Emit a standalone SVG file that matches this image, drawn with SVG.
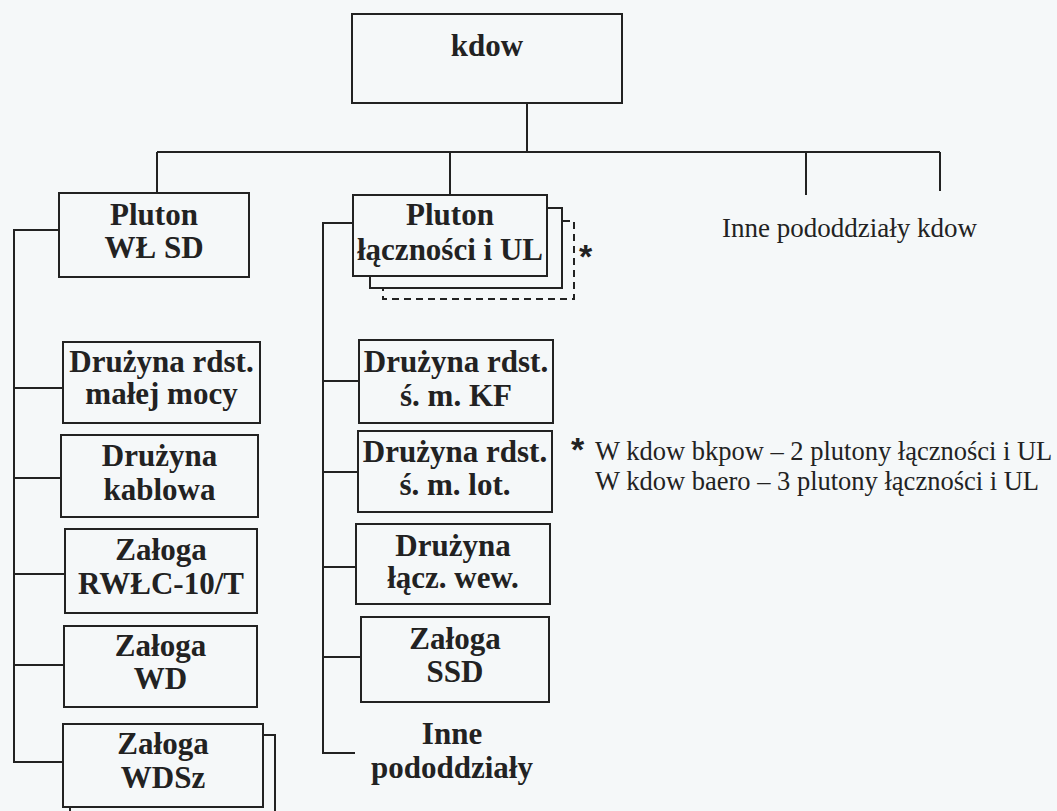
<svg xmlns="http://www.w3.org/2000/svg" width="1057" height="811" viewBox="0 0 1057 811">
<style>
.bx{fill:none;stroke:#222;stroke-width:2}
.ln{fill:none;stroke:#222;stroke-width:2}
.ds{fill:none;stroke:#222;stroke-width:2;stroke-dasharray:7,5}
.b{font-family:"Liberation Serif","Times New Roman",serif;font-weight:bold;font-size:31px;fill:#222;text-anchor:middle}
.r{font-family:"Liberation Serif","Times New Roman",serif;font-size:27px;fill:#222}
.ast{font-family:"Liberation Sans",Arial,sans-serif;font-weight:bold;fill:#222}
</style>
<rect width="1057" height="811" fill="#f5f8f9"/>
<g id="connectors">
<path class="ln" d="M527,103 V153 M157,152 H940 M157,152 V193 M450,152 V195 M806,152 V195 M940,152 V191"/>
<path class="ln" d="M59,230 H14 V762 H63 M14,388 H63 M14,478 H61 M14,574 H65 M14,665 H64"/>
<path class="ln" d="M353,223 H323 V753 H355 M323,381 H359 M323,472 H358 M323,567 H356 M323,657 H361"/>
</g>
<g id="kdow">
<rect class="bx" x="352" y="14" width="270" height="89"/>
<text class="b" x="487" y="56">kdow</text>
</g>
<g id="pluton-wl-sd">
<rect class="bx" x="59" y="193" width="190" height="84"/>
<text class="b" x="154" y="225">Pluton</text>
<text class="b" x="154" y="258">WŁ SD</text>
</g>
<g id="druzyna-malej-mocy">
<rect class="bx" x="63" y="342" width="197" height="81"/>
<text class="b" x="161.5" y="372">Drużyna rdst.</text>
<text class="b" x="161.5" y="404">małej mocy</text>
</g>
<g id="druzyna-kablowa">
<rect class="bx" x="61" y="435" width="197" height="82"/>
<text class="b" x="159.5" y="466">Drużyna</text>
<text class="b" x="159.5" y="500">kablowa</text>
</g>
<g id="zaloga-rwlc">
<rect class="bx" x="65" y="529" width="192" height="84"/>
<text class="b" x="161" y="560">Załoga</text>
<text class="b" x="161" y="594">RWŁC-10/T</text>
</g>
<g id="zaloga-wd">
<rect class="bx" x="64" y="626" width="193" height="81"/>
<text class="b" x="160.5" y="656">Załoga</text>
<text class="b" x="160.5" y="689">WD</text>
</g>
<g id="zaloga-wdsz">
<path class="ln" d="M263,735 H275 V811 M70,807 V811"/>
<rect class="bx" x="63" y="724" width="200" height="83"/>
<text class="b" x="163" y="754">Załoga</text>
<text class="b" x="163" y="788">WDSz</text>
</g>
<g id="pluton-lacznosci">
<path class="ds" d="M563,221 H574 V299 H383 V288"/>
<path class="ln" d="M547,208 H562 V288 H370 V276"/>
<rect class="bx" x="353" y="195" width="194" height="81"/>
<text class="b" x="450" y="225">Pluton</text>
<text class="b" x="450" y="260">łączności i UL</text>
<text class="ast" x="579" y="268" style="font-size:34px">*</text>
</g>
<g id="druzyna-kf">
<rect class="bx" x="359" y="340" width="194" height="83"/>
<text class="b" x="456" y="372">Drużyna rdst.</text>
<text class="b" x="456" y="406">ś. m. KF</text>
</g>
<g id="druzyna-lot">
<rect class="bx" x="358" y="431" width="194" height="81"/>
<text class="b" x="455" y="462">Drużyna rdst.</text>
<text class="b" x="455" y="495">ś. m. lot.</text>
</g>
<g id="druzyna-wew">
<rect class="bx" x="356" y="524" width="194" height="80"/>
<text class="b" x="453" y="556">Drużyna</text>
<text class="b" x="453" y="588">łącz. wew.</text>
</g>
<g id="zaloga-ssd">
<rect class="bx" x="361" y="617" width="188" height="85"/>
<text class="b" x="455" y="649">Załoga</text>
<text class="b" x="455" y="682">SSD</text>
</g>
<g id="inne-pododdzialy">
<text class="b" x="452" y="744">Inne</text>
<text class="b" x="452" y="778">pododdziały</text>
</g>
<g id="inne-kdow">
<text class="r" x="722" y="237">Inne pododdziały kdow</text>
</g>
<g id="footnote">
<text class="ast" x="571" y="461" style="font-size:34px">*</text>
<text class="r" x="595" y="460" style="font-size:26.5px">W kdow bkpow – 2 plutony łączności i UL</text>
<text class="r" x="595" y="490" style="font-size:26.5px">W kdow baero – 3 plutony łączności i UL</text>
</g>
</svg>
